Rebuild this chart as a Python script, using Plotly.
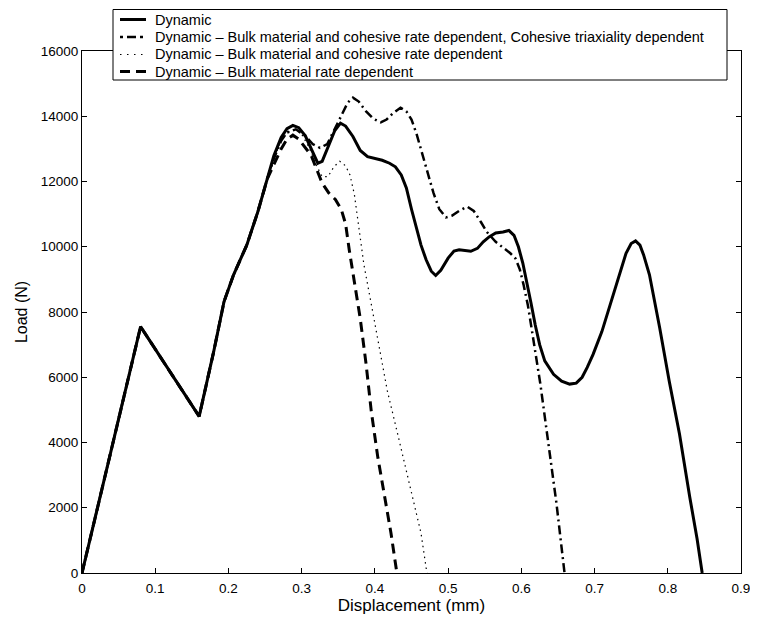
import plotly.graph_objects as go

# shared initial branch (all simulations coincide here)
base_x = [0, 0.08, 0.16, 0.18, 0.194, 0.207, 0.225, 0.24, 0.253]
base_y = [0, 7550, 4800, 6800, 8320, 9140, 10050, 11060, 12080]

dyn_x = base_x + [0.262, 0.272, 0.28, 0.288, 0.296, 0.305, 0.314, 0.322, 0.328, 0.336, 0.345, 0.353,
                  0.36, 0.37, 0.38, 0.39, 0.40, 0.41, 0.42, 0.428, 0.436, 0.443, 0.45, 0.456, 0.463,
                  0.47, 0.477, 0.483, 0.49, 0.5, 0.508, 0.515, 0.523, 0.531, 0.54, 0.548, 0.556,
                  0.565, 0.575, 0.583, 0.59, 0.596, 0.602, 0.607, 0.613, 0.619, 0.625, 0.632, 0.644,
                  0.655, 0.666, 0.675, 0.683, 0.69, 0.698, 0.71, 0.72, 0.732, 0.743, 0.75, 0.756,
                  0.762, 0.767, 0.775, 0.782, 0.789, 0.802, 0.816, 0.83, 0.84, 0.847]
dyn_y = base_y + [12790, 13350, 13620, 13720, 13650, 13400, 12950, 12560, 12620, 13050, 13550, 13790,
                  13700, 13380, 12950, 12760, 12700, 12650, 12560, 12450, 12200, 11800, 11150, 10600, 10050,
                  9600, 9250, 9120, 9280, 9650, 9870, 9910, 9880, 9860, 9950, 10150, 10300,
                  10420, 10450, 10500, 10350, 10000, 9500, 9000, 8300, 7600, 7000, 6500, 6090,
                  5880, 5790, 5820, 6000, 6300, 6700, 7400, 8120, 9000, 9800, 10100, 10180,
                  10050, 9750, 9140, 8350, 7510, 5880, 4260, 2330, 1050, 0]

triax_x = base_x + [0.262, 0.272, 0.28, 0.292, 0.305, 0.315, 0.325, 0.335, 0.345, 0.355, 0.363, 0.37,
                    0.378, 0.388, 0.398, 0.408, 0.416, 0.425, 0.435, 0.443, 0.45, 0.457, 0.464, 0.472,
                    0.48, 0.488, 0.497, 0.505, 0.515, 0.526, 0.535, 0.545, 0.553, 0.565, 0.576, 0.585,
                    0.592, 0.598, 0.603, 0.609, 0.614, 0.62, 0.626, 0.637, 0.648, 0.659]
triax_y = base_y + [12700, 13250, 13500, 13600, 13400, 13150, 13030, 13150, 13600, 14100, 14420, 14570,
                    14450, 14150, 13920, 13810, 13900, 14100, 14260, 14150, 13900, 13450, 12900, 12300,
                    11650, 11150, 10900, 10950, 11100, 11230, 11100, 10750, 10450, 10150, 9950, 9800,
                    9640, 9300, 8840, 8200, 7500, 6700, 5790, 3960, 2130, 0]

rate_x = base_x + [0.262, 0.272, 0.28, 0.292, 0.30, 0.31, 0.32, 0.328, 0.336, 0.344, 0.352, 0.36, 0.366,
                   0.372, 0.378, 0.385, 0.395, 0.406, 0.417, 0.431, 0.442, 0.454, 0.463, 0.471]
rate_y = base_y + [12700, 13250, 13500, 13600, 13450, 13050, 12500, 12150, 12150, 12450, 12620, 12480, 12200,
                   11600, 10600, 9450, 8250, 6850, 5580, 4270, 3240, 2130, 1220, 0]

bulk_x = base_x + [0.262, 0.272, 0.28, 0.288, 0.296, 0.305, 0.313, 0.32, 0.328, 0.337, 0.346, 0.354,
                   0.36, 0.365, 0.372, 0.38, 0.388, 0.395, 0.404, 0.415, 0.422, 0.43]
bulk_y = base_y + [12500, 13000, 13300, 13420, 13300, 13050, 12800, 12400, 11950, 11650, 11450, 11150,
                   10700, 9900, 8900, 7800, 6400, 4970, 3545, 2130, 1220, 0]

names = ["Dynamic",
         "Dynamic – Bulk material and cohesive rate dependent, Cohesive triaxiality dependent",
         "Dynamic – Bulk material and cohesive rate dependent",
         "Dynamic – Bulk material rate dependent"]

x_ticks = [0, 0.1, 0.2, 0.3, 0.4, 0.5, 0.6, 0.7, 0.8, 0.9]
x_tick_text = ["0", "0.1", "0.2", "0.3", "0.4", "0.5", "0.6", "0.7", "0.8", "0.9"]
y_ticks = [0, 2000, 4000, 6000, 8000, 10000, 12000, 14000, 16000]
y_tick_text = ["0", "2000", "4000", "6000", "8000", "10000", "12000", "14000", "16000"]

font = "Liberation Sans, Arial, Helvetica, sans-serif"

styles = {
    names[0]: dict(color="black", width=3),
    names[1]: dict(color="black", width=2.5, dash="9px,4px,2px,4px"),
    names[2]: dict(color="black", width=1.2, dash="1.5px,4px"),
    names[3]: dict(color="black", width=3, dash="10px,6px"),
}
sample_dash = {names[0]: "solid", names[1]: "3px,4px,9px,4px",
               names[2]: "1.5px,5.5px", names[3]: "10px,6px"}

fig = go.Figure()
fig.add_trace(go.Scatter(x=triax_x, y=triax_y, name=names[1], mode="lines", showlegend=False,
                         line=styles[names[1]]))
fig.add_trace(go.Scatter(x=rate_x, y=rate_y, name=names[2], mode="lines", showlegend=False,
                         line=styles[names[2]]))
fig.add_trace(go.Scatter(x=bulk_x, y=bulk_y, name=names[3], mode="lines", showlegend=False,
                         line=styles[names[3]]))
fig.add_trace(go.Scatter(x=dyn_x, y=dyn_y, name=names[0], mode="lines", showlegend=False,
                         line=styles[names[0]]))

# page is rendered with an 8px body margin; plot area spans window px 82..741 x 51..573
PL, PR, PT, PB = 82.0, 741.0, 51.0, 573.0


def px(xw):
    return (xw - PL) / (PR - PL)


def py(yw):
    return (PB - yw) / (PB - PT)


# legend box (drawn manually for exact row spacing)
shapes = [dict(type="rect", xref="paper", yref="paper", x0=px(113), x1=px(727), y0=py(80), y1=py(9.5),
               line=dict(color="black", width=1), fillcolor="white", layer="above")]
annotations = []
rows = [19.5, 37.0, 54.5, 71.5]
for name, yw in zip(names, rows):
    st = dict(styles[name])
    st["dash"] = sample_dash[name]
    shapes.append(dict(type="line", xref="paper", yref="paper", x0=px(120), x1=px(146),
                       y0=py(yw), y1=py(yw), line=st, layer="above"))
    annotations.append(dict(text=name, xref="paper", yref="paper", x=px(153), y=py(yw),
                            xanchor="left", yanchor="middle", showarrow=False,
                            font=dict(family=font, size=14.5, color="black")))

axis_common = dict(showline=True, linecolor="black", linewidth=1, mirror="ticks",
                   ticks="inside", ticklen=5, tickcolor="black", showgrid=False, zeroline=False,
                   tickfont=dict(family=font, size=13.5, color="black"))
fig.update_layout(
    width=750, height=610,
    margin=dict(l=74, r=17, t=43, b=45, autoexpand=False),
    paper_bgcolor="white", plot_bgcolor="white",
    font=dict(family=font, size=14, color="black"),
    showlegend=False,
    shapes=shapes,
    annotations=annotations,
    xaxis=dict(range=[0, 0.9], tickvals=x_ticks, ticktext=x_tick_text, ticklabelstandoff=3,
               title=dict(text="Displacement (mm)", font=dict(family=font, size=17), standoff=1),
               **axis_common),
    yaxis=dict(range=[0, 16000], tickvals=y_ticks, ticktext=y_tick_text,
               title=dict(text="Load (N)", font=dict(family=font, size=16), standoff=9),
               **axis_common),
)

fig.write_html("out.html")
